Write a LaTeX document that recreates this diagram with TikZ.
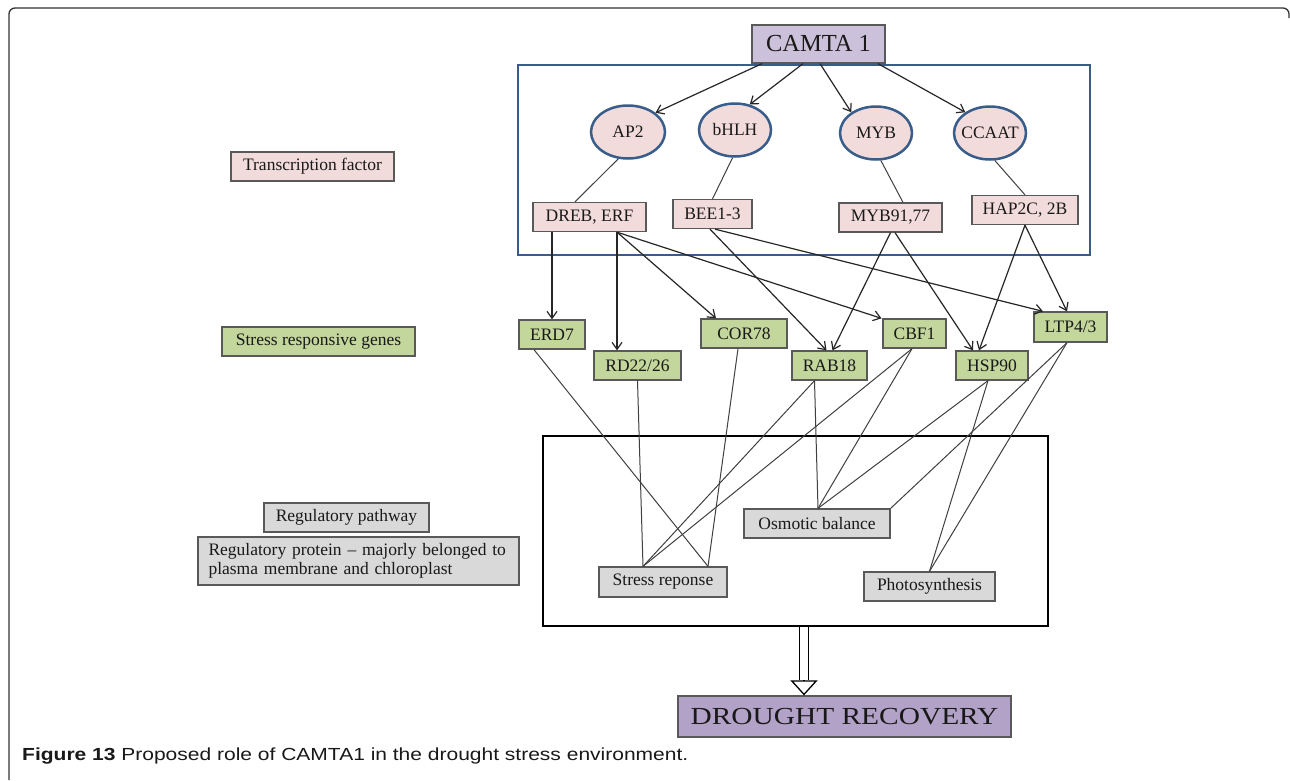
\documentclass[tikz,border=0pt]{standalone}
\usepackage{fontspec}
\setmainfont{Liberation Serif}
\newfontfamily\widefont[FakeStretch=1.2]{Liberation Serif}
\newfontfamily\capfont[FakeStretch=1.2]{Liberation Sans}
\usetikzlibrary{shapes.geometric,arrows.meta,calc}
\definecolor{tfpink}{HTML}{F2DCDB}
\definecolor{gengreen}{HTML}{C3D69B}
\definecolor{pathgray}{HTML}{D9D9D9}
\definecolor{camtapurple}{HTML}{CCC1DA}
\definecolor{droughtpurple}{HTML}{B3A2C7}
\definecolor{boxblue}{HTML}{385D8A}
\definecolor{edgegray}{HTML}{595959}
\tikzset{
 every node/.style={font=\fontsize{17.5}{20}\selectfont, text=black!90},
 box/.style={draw=edgegray, line width=1.3pt, rectangle, inner sep=0pt, minimum height=29pt},
 tfbox/.style={box, fill=tfpink},
 genebox/.style={box, fill=gengreen},
 pathbox/.style={box, fill=pathgray},
 tfell/.style={ellipse, draw=boxblue, line width=2.5pt, fill=tfpink, minimum width=74pt, minimum height=53pt, inner sep=0pt},
 arr/.style={draw=black!85, line width=1.2pt, -{Straight Barb[length=7pt,width=10pt]}},
 link/.style={draw=black!75, line width=1pt},
}
\begin{document}
\begin{tikzpicture}[x=1pt,y=-1pt]
\useasboundingbox (0,0) rectangle (1290,780);
\fill[white] (0,0) rectangle (1290,780);
% frame
\draw[line width=1.3pt, black!80] (9,780) -- (9,14) arc[start angle=180, end angle=270, radius=6] -- (1283,8) arc[start angle=270, end angle=360, radius=6] -- (1289,18);

% top
\node[box, fill=camtapurple, minimum width=133pt, minimum height=38pt, font=\fontsize{24.5}{28}\selectfont] (camta) at (818.5,44) {CAMTA 1};
\node[draw=boxblue, line width=2.5pt, minimum width=572pt, minimum height=190pt, inner sep=0pt] (tfregion) at (804,160) {};

\node[tfell] (ap2) at (628,132) {\makebox[0pt]{AP2}};
\node[tfell, minimum width=72pt] (bhlh) at (735,130) {\makebox[0pt]{bHLH}};
\node[tfell, minimum width=72pt] (myb) at (876,133) {\makebox[0pt]{MYB}};
\node[tfell, minimum width=72pt] (ccaat) at (990,133) {\makebox[0pt]{CCAAT}};

\node[tfbox, minimum width=113pt] (dreb) at (589.5,217) {DREB, ERF};
\node[tfbox, minimum width=79pt] (bee) at (712.5,214) {BEE1-3};
\node[tfbox, minimum width=103pt] (myb91) at (890.5,217.5) {MYB91,77};
\node[tfbox, minimum width=106pt] (hap) at (1025,210) {HAP2C, 2B};

% genes
\node[genebox, minimum width=66pt] (erd) at (552,334.5) {ERD7};
\node[genebox, minimum width=87pt] (rd) at (637.5,365.5) {RD22/26};
\node[genebox, minimum width=86pt] (cor) at (744,333.5) {COR78};
\node[genebox, minimum width=75pt] (rab) at (829.5,365.5) {RAB18};
\node[genebox, minimum width=63pt] (cbf) at (914.5,333.5) {CBF1};
\node[genebox, minimum width=72pt] (hsp) at (992,365.5) {HSP90};
\node[genebox, minimum width=73pt, minimum height=30pt] (ltp) at (1070.5,327) {LTP4/3};

% pathway region
\node[draw=black, line width=2.8pt, minimum width=505pt, minimum height=190pt, inner sep=0pt] (pathregion) at (795.5,531) {};
\node[pathbox, minimum width=146pt] (osm) at (817,523.5) {Osmotic balance};
\node[pathbox, minimum width=128pt, minimum height=30pt] (stress) at (663,582) {Stress reponse};
\node[pathbox, minimum width=131pt] (photo) at (929.5,586.5) {Photosynthesis};

\node[box, fill=droughtpurple, minimum width=333pt, minimum height=41pt, font=\widefont\fontsize{24.5}{28}\selectfont] (drought) at (844.5,716.5) {DROUGHT RECOVERY};

% legend
\node[tfbox, minimum width=163pt] (lgtf) at (312.5,166.5) {Transcription factor};
\node[genebox, minimum width=193pt] (lgsrg) at (318.5,341.5) {Stress responsive genes};
\node[pathbox, minimum width=165pt] (lgrp) at (346.5,517.5) {Regulatory pathway};
\node[pathbox, minimum width=321pt, minimum height=48pt, align=left, text width=300pt, font=\fontsize{17.5}{19}\selectfont] (lgprot) at (358.5,561) {Regulatory protein – majorly belonged to\\plasma membrane and chloroplast};

% CAMTA arrows
\draw[arr] ([xshift=-56.5pt]camta.south) -- (ap2.35);
\draw[arr] ([xshift=-15.5pt]camta.south) -- (bhlh.60);
\draw[arr] ([xshift=1.5pt]camta.south) -- (myb.140);
\draw[arr] ([xshift=59.5pt]camta.south) -- (ccaat.140);

% ellipse -> TF boxes
\draw[link] (ap2.250) -- ([xshift=-14.5pt]dreb.north);
\draw[link] (bhlh.265) -- (bee.north);
\draw[link] (myb.280) -- ([xshift=12.5pt]myb91.north);
\draw[link] (ccaat.280) -- (hap.north);

% TF -> genes
\draw[arr] ([xshift=-37.5pt]dreb.south) -- (erd.north);
\draw[arr] ([xshift=27.5pt]dreb.south) -- ([xshift=-20.5pt]rd.north);
\draw[arr] ([xshift=27.5pt]dreb.south) -- ([xshift=-28pt]cor.north);
\draw[arr] ([xshift=27.5pt]dreb.south) -- ([xshift=-33pt]cbf.north);
\draw[arr] ([xshift=-2.5pt]bee.south) -- ([xshift=-3pt]rab.north);
\draw[arr] ([xshift=2.5pt]bee.south) -- ([xshift=-27.5pt]ltp.north);
\draw[arr] (myb91.south) -- ([xshift=3pt]rab.north);
\draw[arr] ([xshift=4.5pt]myb91.south) -- ([xshift=-19pt]hsp.north);
\draw[arr] (hap.south) -- ([xshift=-13pt]hsp.north);
\draw[arr] (hap.south) -- ([xshift=-3.5pt]ltp.north);

% genes -> pathways
\draw[link] ([xshift=-18pt]erd.south) -- ([xshift=45pt]stress.north);
\draw[link] (rd.south) -- ([xshift=-20pt]stress.north);
\draw[link] ([xshift=-6pt]cor.south) -- ([xshift=45pt]stress.north);
\draw[link] ([xshift=-15pt]rab.south) -- ([xshift=-20pt]stress.north);
\draw[link] ([xshift=-15pt]rab.south) -- ([xshift=1pt]osm.north);
\draw[link] ([xshift=-2.5pt]cbf.south) -- ([xshift=-20pt]stress.north);
\draw[link] ([xshift=-2.5pt]cbf.south) -- ([xshift=1pt]osm.north);
\draw[link] ([xshift=-4pt]hsp.south) -- ([xshift=1pt]osm.north);
\draw[link] ([xshift=-4pt]hsp.south) -- (photo.north);
\draw[link] ([xshift=-3.5pt]ltp.south) -- (osm.north east);
\draw[link] ([xshift=-3.5pt]ltp.south) -- (photo.north);

% double arrow
\coordinate (dtip) at ([xshift=-40.5pt]drought.north);
\coordinate (dbase) at ([xshift=-40.5pt,yshift=15pt]drought.north);
\draw[line width=1.3pt, double, double distance=8pt] ([xshift=8.5pt]pathregion.south) -- (dbase);
\draw[line width=1.3pt, -{Triangle[open, length=15pt, width=27pt]}] (dbase) -- (dtip);

% caption
\node[anchor=base west, font=\capfont\fontsize{17.5}{20}\selectfont, inner sep=0pt] (caption) at (22,760) {\textbf{Figure 13} Proposed role of CAMTA1 in the drought stress environment.};
\end{tikzpicture}
\end{document}
